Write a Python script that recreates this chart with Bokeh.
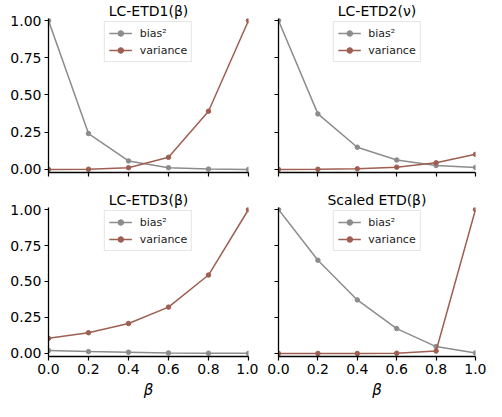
from bokeh.plotting import figure
from bokeh.layouts import gridplot
from bokeh.models import Range1d, FixedTicker
from bokeh.embed import file_html
from bokeh.resources import INLINE

beta = [0.0, 0.2, 0.4, 0.6, 0.8, 1.0]

titles = ["LC-ETD1(\u03b2)", "LC-ETD2(\u03bd)", "LC-ETD3(\u03b2)", "Scaled ETD(\u03b2)"]

bias_etd1 = [1.0, 0.241, 0.057, 0.011, 0.002, 0.0]
var_etd1 = [0.0, 0.001, 0.011, 0.081, 0.391, 1.0]

bias_etd2 = [1.0, 0.373, 0.149, 0.063, 0.026, 0.013]
var_etd2 = [0.0, 0.001, 0.004, 0.015, 0.044, 0.101]

bias_etd3 = [0.020, 0.013, 0.009, 0.004, 0.002, 0.001]
var_etd3 = [0.105, 0.144, 0.208, 0.322, 0.545, 1.0]

bias_scaled = [1.0, 0.648, 0.372, 0.173, 0.048, 0.004]
var_scaled = [0.0, 0.0, 0.0, 0.002, 0.017, 1.0]

x_ticks = [0.0, 0.2, 0.4, 0.6, 0.8, 1.0]
y_ticks = [0.0, 0.25, 0.5, 0.75, 1.0]
x_tick_labels = ["0.0", "0.2", "0.4", "0.6", "0.8", "1.0"]
y_tick_labels = ["0.00", "0.25", "0.50", "0.75", "1.00"]

bias_label = "bias\u00b2"
var_label = "variance"

GRAY = "#8c8c8c"
BROWN = "#9e5f52"
FONT = "DejaVu Sans"


def make_panel(title, bias, var, width, height, mbl, mbr, mbt, mbb, show_x, show_y):
    p = figure(width=width, height=height, output_backend="svg", toolbar_location=None,
               x_range=Range1d(0.0, 1.0), y_range=Range1d(-0.021, 1.014),
               min_border_left=mbl, min_border_right=mbr,
               min_border_top=mbt, min_border_bottom=mbb)
    p.title.text = title
    p.title.align = "center"
    p.title.text_font = FONT
    p.title.text_font_size = "14px"
    p.title.text_font_style = "normal"
    p.title.standoff = 0
    p.title.text_color = "#000000"
    p.outline_line_color = None
    p.grid.visible = False
    p.background_fill_color = "white"
    p.border_fill_color = "white"

    p.line(beta, bias, line_color=GRAY, line_width=1.5, legend_label=bias_label)
    p.scatter(beta, bias, size=4.5, fill_color=GRAY, line_color=GRAY, legend_label=bias_label)
    p.line(beta, var, line_color=BROWN, line_width=1.5, legend_label=var_label)
    p.scatter(beta, var, size=4.5, fill_color=BROWN, line_color=BROWN, legend_label=var_label)

    for ax in (p.xaxis[0], p.yaxis[0]):
        ax.axis_line_width = 1.3
        ax.axis_line_color = "black"
        ax.major_tick_line_width = 1.2
        ax.major_tick_out = 4
        ax.major_tick_in = 0
        ax.minor_tick_out = 0
        ax.minor_tick_in = 0
        ax.major_label_text_font = FONT
        ax.major_label_text_font_size = "14px"
        ax.major_label_text_color = "#000000"
        ax.major_label_standoff = 3
        ax.axis_label_text_font = FONT

    p.xaxis.ticker = FixedTicker(ticks=x_ticks)
    p.yaxis.ticker = FixedTicker(ticks=y_ticks)

    if show_x:
        p.xaxis.major_label_overrides = dict(zip(x_ticks, x_tick_labels))
        p.xaxis.axis_label = "\u03b2"
        p.xaxis.axis_label_text_font_size = "15px"
        p.xaxis.axis_label_text_font_style = "italic"
        p.xaxis.axis_label_standoff = 4
        p.xaxis.axis_label_text_color = "#000000"
    else:
        p.xaxis.major_label_overrides = {t: "" for t in x_ticks}
        p.xaxis.major_label_standoff = 0
    if show_y:
        p.yaxis.major_label_overrides = dict(zip(y_ticks, y_tick_labels))
    else:
        p.yaxis.major_label_overrides = {t: "" for t in y_ticks}
        p.yaxis.major_label_standoff = 0

    lg = p.legend[0]
    lg.location = "top_center"
    lg.label_text_font = FONT
    lg.label_text_font_size = "11px"
    lg.label_text_color = "#222222"
    lg.glyph_width = 23
    lg.glyph_height = 14
    lg.label_height = 14
    lg.label_standoff = 8
    lg.spacing = 3
    lg.padding = 4
    lg.margin = 3
    lg.border_line_color = "#cccccc"
    lg.border_line_width = 1
    lg.background_fill_alpha = 0.8
    return p


p1 = make_panel(titles[0], bias_etd1, var_etd1, 258, 189, 48, 10, 18, 17, False, True)
p2 = make_panel(titles[1], bias_etd2, var_etd2, 228, 189, 20, 11, 18, 17, False, False)
p3 = make_panel(titles[2], bias_etd3, var_etd3, 258, 212, 48, 10, 18, 42, True, True)
p4 = make_panel(titles[3], bias_scaled, var_scaled, 228, 212, 20, 11, 18, 42, True, False)

grid = gridplot([[p1, p2], [p3, p4]], toolbar_location=None)

open("out.html", "w").write(file_html(grid, INLINE))
